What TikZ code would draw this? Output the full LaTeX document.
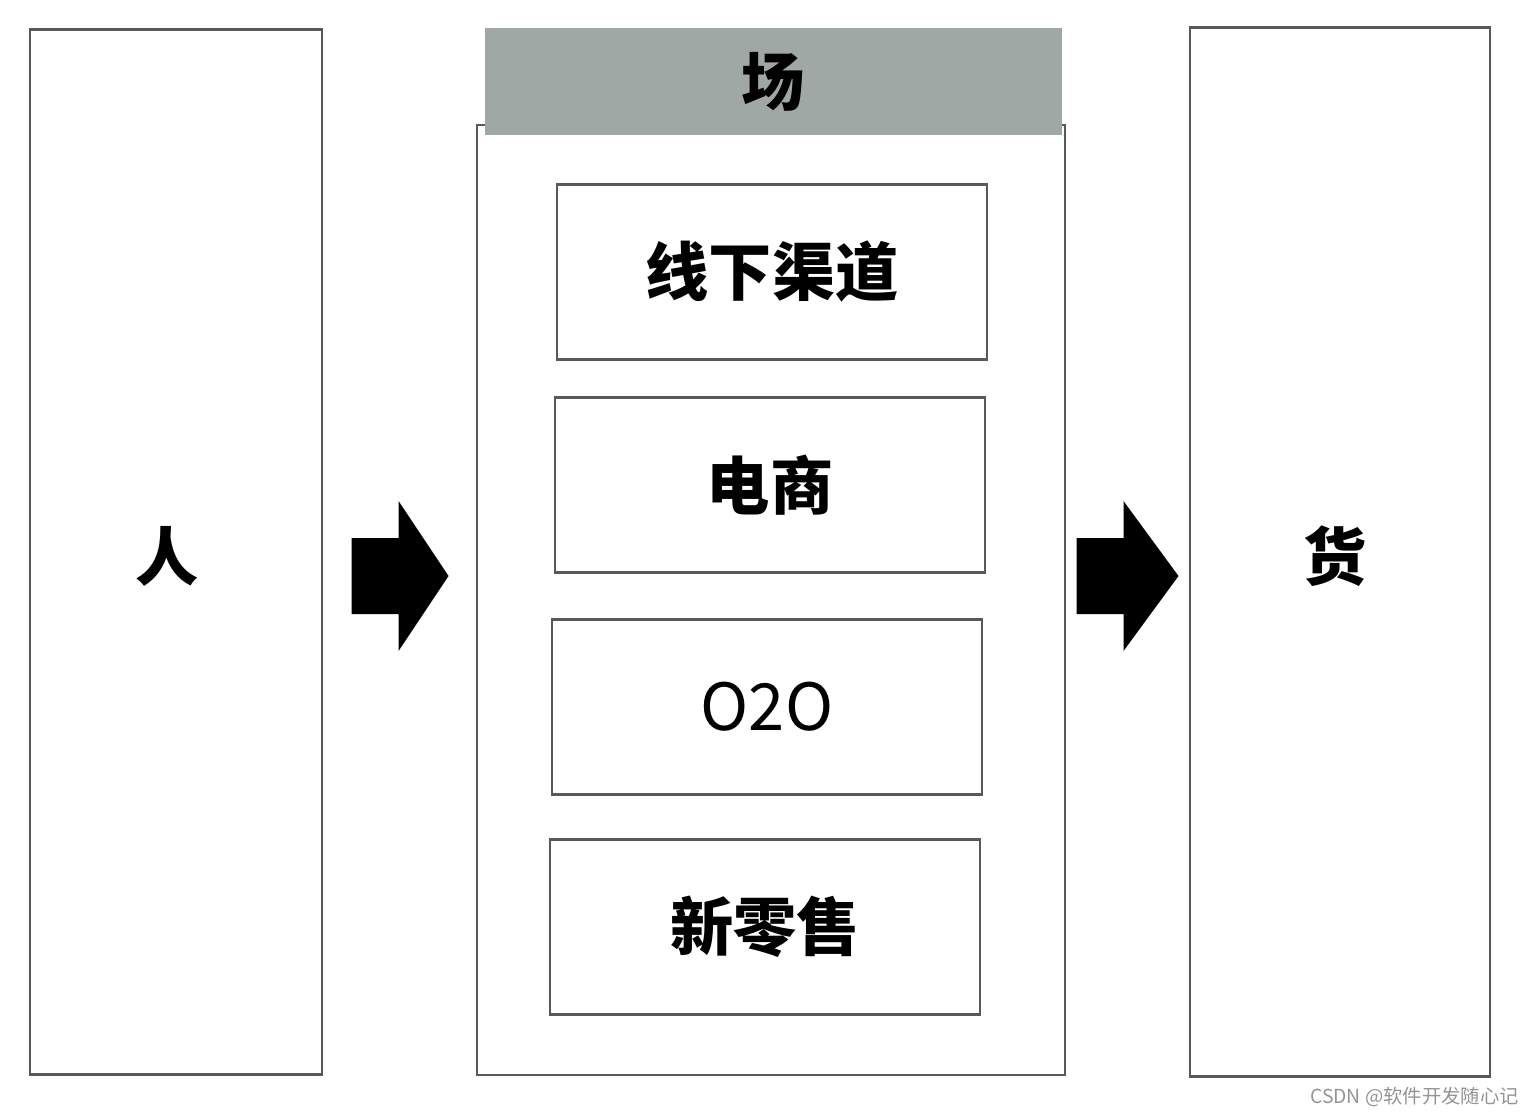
\documentclass[tikz,border=0pt]{standalone}
\usepackage{fontspec}
\setmainfont{Noto Sans CJK SC}
\usetikzlibrary{calc}
\definecolor{headgray}{RGB}{160,168,166}
\begin{document}
\begin{tikzpicture}[x=0.02cm, y=-0.02cm,
  outerbox/.style={draw=black!65, line width=1.4pt, fill=white, inner sep=0pt},
  itembox/.style={draw=black!65, line width=1.4pt, minimum width=8.6cm, minimum height=3.5cm, inner sep=0pt},
  bigtext/.style={font=\fontsize{36}{40}\selectfont\bfseries}]
\useasboundingbox (0,0) rectangle (1540,1116);
% People
\node[outerbox, minimum width=5.84cm, minimum height=20.9cm] (ren) at (176,552) {};
\node[bigtext] (rentext) at (167,556) {人};
% Place column
\node[outerbox, minimum width=11.76cm, minimum height=19cm] (chang) at (771,600) {};
\node[fill=headgray, minimum width=11.54cm, minimum height=2.14cm, inner sep=0pt] (changhead) at (773.5,81.5) {};
\node[bigtext] (changtext) at (changhead) {场};
\node[itembox, bigtext] (xianxia) at (772,272) {线下渠道};
\node[itembox, bigtext] (dianshang) at (770,485) {电商};
\node[itembox, font=\fontsize{37}{42}\selectfont] (otwoo) at (767,707) {O2O};
\node[itembox, bigtext] (xinlingshou) at (765,927) {新零售};
% Goods
\node[outerbox, minimum width=6cm, minimum height=20.98cm] (huo) at (1340,552) {};
\node[bigtext] (huotext) at (1335,556) {货};
% block arrows
\coordinate (arrowA) at ($(ren.east)!0.5!(chang.west)$);
\coordinate (arrowB) at ($(chang.east)!0.5!(huo.west)$);
\fill[black] (arrowA) ++(-48,-38) -- ++(47,0) -- ++(0,-37) -- ++(50,75) -- ++(-50,75) -- ++(0,-37) -- ++(-47,0) -- cycle;
\fill[black] (arrowB) ++(-51,-38) -- ++(47,0) -- ++(0,-37) -- ++(55,75) -- ++(-55,75) -- ++(0,-37) -- ++(-47,0) -- cycle;
\node[font=\fontsize{11}{13}\selectfont, text=black!42, anchor=east] (mark) at (1525,1097) {CSDN @软件开发随心记};
\end{tikzpicture}
\end{document}
